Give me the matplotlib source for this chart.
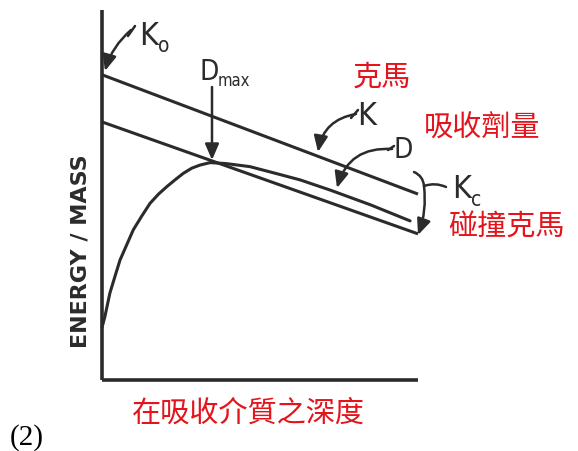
import matplotlib
matplotlib.use("Agg")
import matplotlib.pyplot as plt
from matplotlib.patches import FancyArrowPatch

# Depth-dose curves: kerma K, collision kerma Kc and absorbed dose D
K_x = [0.0, 10.0]
K_y = [9.9, 6.03]
Kc_x = [0.0, 10.0]
Kc_y = [8.37, 4.74]
D_x = [0.0, 0.09, 0.25, 0.41, 0.57, 0.78, 0.99, 1.26, 1.52, 1.79, 2.05, 2.31,
       2.57, 2.84, 3.10, 3.42, 3.92, 4.68, 5.5, 6.27, 7.22, 8.5, 9.75]
D_y = [1.7, 2.05, 2.82, 3.36, 3.89, 4.38, 4.87, 5.32, 5.73, 6.03, 6.27, 6.49,
       6.70, 6.87, 6.97, 7.05, 7.02, 6.92, 6.7, 6.49, 6.16, 5.68, 5.16]

W, H = 578, 451
INK = "#2b2b2b"
RED = "#e3141b"
CJK = ["Noto Sans CJK TC", "DejaVu Sans"]

fig = plt.figure(figsize=(W / 100, H / 100), dpi=100)


def fx(x, y):
    """pixel position -> figure fraction"""
    return (x / W, 1 - y / H)


ax = fig.add_axes([102 / W, 1 - 380 / H, (418 - 102) / W, (380 - 10) / H])
ax.set_xlim(0, 10)
ax.set_ylim(0, 12)
ax.set_xticks([])
ax.set_yticks([])
for s in ("top", "right"):
    ax.spines[s].set_visible(False)
for s in ("left", "bottom"):
    ax.spines[s].set_linewidth(2.6)
    ax.spines[s].set_color(INK)
    ax.spines[s].set_capstyle("butt")

ax.plot(K_x, K_y, color=INK, lw=2.2, solid_capstyle="butt", clip_on=False)
ax.plot(Kc_x, Kc_y, color=INK, lw=2.2, solid_capstyle="butt", clip_on=False)
ax.plot(D_x, D_y, color=INK, lw=2.2, solid_capstyle="round",
        solid_joinstyle="round", clip_on=False)


def arrow(p0, p1, rad=0.0, head=True):
    st = "-|>,head_length=6,head_width=2.6" if head else "-"
    a = FancyArrowPatch(fx(*p0), fx(*p1), transform=fig.transFigure,
                        arrowstyle=st, connectionstyle=f"arc3,rad={rad}",
                        color=INK, lw=1.8, shrinkA=0, shrinkB=0,
                        mutation_scale=1.6)
    fig.add_artist(a)


# pointer arrows
arrow((131, 30), (105, 71), rad=0.15)
arrow((128, 36), (135, 26), rad=0.0, head=False)
arrow((212, 87), (212, 160))
arrow((356, 114), (318, 152), rad=0.35)
arrow((351, 118), (358, 110), rad=0.0, head=False)
arrow((392, 149), (337, 188), rad=0.4)
arrow((388, 150), (394, 146), rad=0.0, head=False)
# bracket for Kc
arrow((414, 172), (424, 186), rad=-0.3, head=False)
arrow((424, 186), (446, 187), rad=-0.2, head=False)
arrow((424, 186), (418, 235), rad=-0.12)


# letter labels
def lab(x, y, s, size):
    fig.text(*fx(x, y), s, fontsize=size, family="DejaVu Sans",
             fontstretch="condensed", color=INK, ha="left", va="baseline")


lab(139, 45, "K", 23)
lab(158, 52, "o", 15)
lab(199, 80, "D", 20)
lab(218, 86, "max", 12)
lab(357, 125, "K", 23)
lab(394, 158, "D", 20)
lab(452, 198, "K", 23)
lab(471, 206, "c", 15)

fig.text(*fx(80, 251), "ENERGY / MASS", fontsize=16, family="DejaVu Sans",
         fontweight="bold", color=INK, rotation=90, ha="center", va="center")

# Chinese annotations
for x, y, s in [(382, 78, "克馬"), (482, 128, "吸收劑量"),
                (507, 228, "碰撞克馬"), (248, 414, "在吸收介質之深度")]:
    fig.text(*fx(x, y), s, fontsize=21, family=CJK, color=RED,
             ha="center", va="center")

fig.text(*fx(27, 438), "(2)", fontsize=21, family="Liberation Serif",
         color="black", ha="center", va="center")

fig.savefig("out.png", dpi=100)
